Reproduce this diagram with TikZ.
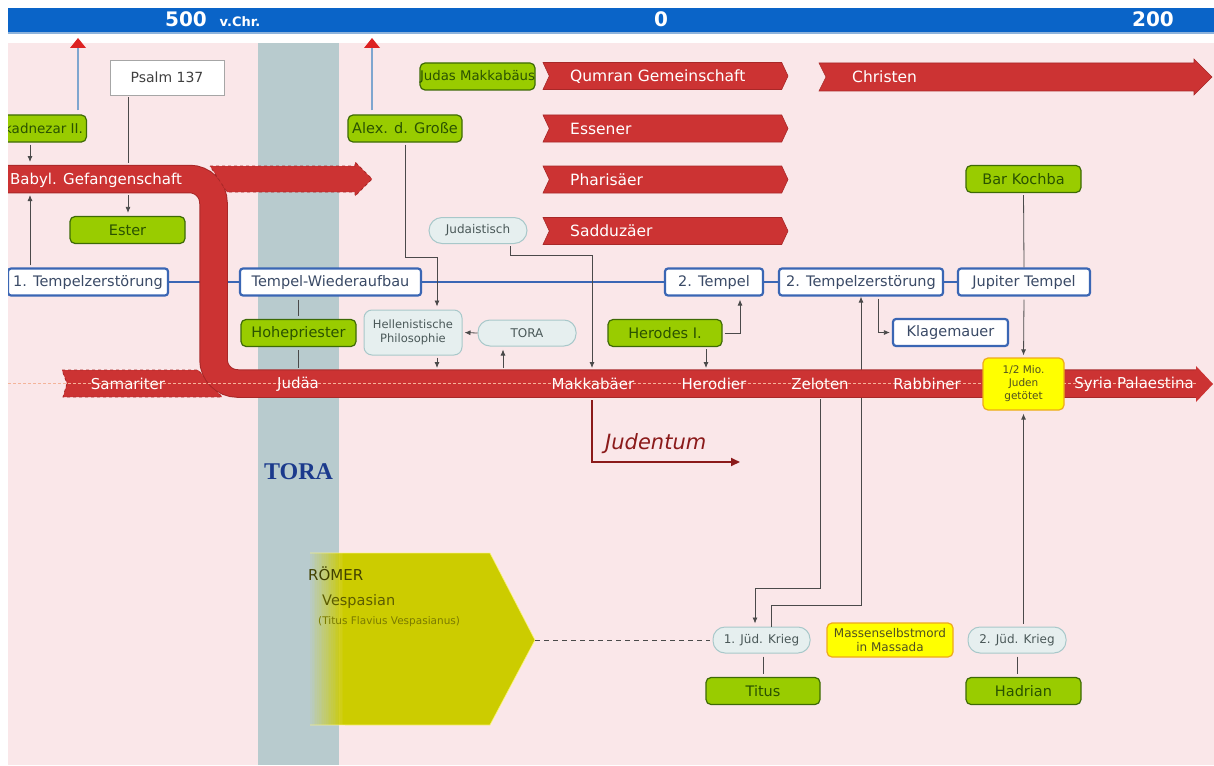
\documentclass[tikz,border=0pt]{standalone}
\usepackage{fontspec}
\setmainfont{DejaVu Sans}
\newfontfamily\torafont{Liberation Serif}
\usetikzlibrary{shapes.symbols,arrows.meta}
\definecolor{pinkbg}{HTML}{FAE7E9}
\definecolor{barblue}{HTML}{0A64C8}
\definecolor{barline}{HTML}{8DB3DC}
\definecolor{colgray}{HTML}{B8CBCE}
\definecolor{bandred}{HTML}{CC3333}
\definecolor{bandedge}{HTML}{A82828}
\definecolor{gfill}{HTML}{99CC00}
\definecolor{gborder}{HTML}{3D6A05}
\definecolor{gtext}{HTML}{2A5200}
\definecolor{bborder}{HTML}{3A66B4}
\definecolor{btext}{HTML}{3A4A66}
\definecolor{lfill}{HTML}{E6EFEF}
\definecolor{lborder}{HTML}{A8C8CA}
\definecolor{ltext}{HTML}{4A5858}
\definecolor{yfill}{HTML}{FFFF00}
\definecolor{yborder}{HTML}{EDAA1A}
\definecolor{ytext}{HTML}{505020}
\definecolor{conncol}{HTML}{4A4A4A}
\definecolor{olivefill}{HTML}{CCCC00}
\definecolor{darkred}{HTML}{8B1A1A}
\definecolor{dashor}{HTML}{F4B49A}
\definecolor{upblue}{HTML}{7FA6CF}
\definecolor{upred}{HTML}{DD2222}
\definecolor{torablue}{HTML}{1B3A8C}
\begin{document}
\begin{tikzpicture}[x=1pt,y=-1pt,
  greenbox/.style={draw=gborder, fill=gfill, rounded corners=5, line width=1.2, text=gtext, font=\fontsize{14.5}{17}\selectfont, minimum height=27, inner sep=0},
  bluebox/.style={draw=bborder, fill=white, rounded corners=3, line width=2.2, text=btext, font=\fontsize{14.5}{17}\selectfont, minimum height=27, inner sep=0},
  lightbox/.style={draw=lborder, fill=lfill, rounded corners=12, line width=1, text=ltext, font=\fontsize{12}{14}\selectfont, minimum height=26, inner sep=0},
  yellowbox/.style={draw=yborder, fill=yfill, rounded corners=5, line width=1.2, text=ytext, font=\fontsize{12}{14}\selectfont, inner sep=0},
  ribbonshape/.style={signal, signal to=east, signal from=west, signal pointer angle=130, fill=bandred, draw=bandedge, line width=0.6, minimum height=27, inner sep=0},
  ribbonlabel/.style={text=white, font=\fontsize{15.5}{18}\selectfont, inner sep=0, anchor=west},
  bandlabel/.style={text=white, font=\fontsize{15}{18}\selectfont, inner sep=0},
  conn/.style={draw=conncol, line width=0.8},
  arr/.style={conn, -{Latex[length=6pt,width=5pt]}}
]
\useasboundingbox (0,0) rectangle (1214,765);
\fill[white] (0,0) rectangle (1214,765);
\begin{scope}
\clip (8,0) rectangle (1214,765);
% background
\fill[barblue] (8,8) rectangle (1214,32);
\fill[barline] (8,32) rectangle (1214,34.5);
\fill[pinkbg] (8,43) rectangle (1214,765);
\fill[colgray] (258,43) rectangle (339,765);
\node[font=\torafont\bfseries\fontsize{24}{26}\selectfont, text=torablue] (toraL) at (298.5,472) {TORA};
% top bar labels
\node[text=white, font=\bfseries\fontsize{20}{22}\selectfont, anchor=base] (y500) at (186,27) {500};
\node[text=white, font=\bfseries\fontsize{13}{15}\selectfont, anchor=base] (vchr) at (240,27) {v.Chr.};
\node[text=white, font=\bfseries\fontsize{20}{22}\selectfont, anchor=base] (y0) at (661,27) {0};
\node[text=white, font=\bfseries\fontsize{20}{22}\selectfont, anchor=base] (y200) at (1153,27) {200};

% Roemer shape
\fill[olivefill] (345,553) -- (490,553) -- (535,640) -- (490,725) -- (345,725) -- cycle;
\foreach \i [evaluate=\i as \op using (\i+1)/20, evaluate=\i as \xa using 310+\i*1.75, evaluate=\i as \xb using 311.75+\i*1.75] in {0,...,19} {
  \fill[olivefill, opacity=\op] (\xa,553) rectangle (\xb,725);
}
\draw[yellow!50!white, line width=0.8, opacity=0.8] (310,553) -- (490,553) -- (535,640) -- (490,725) -- (310,725);
\coordinate (rtip) at (535,640);
\node[anchor=west, text=black!60!olivefill!80!black, font=\fontsize{15}{17}\selectfont, inner sep=0] (roemer) at (308,574) {RÖMER};
\node[anchor=west, text=olivefill!45!black, font=\fontsize{14.5}{17}\selectfont, inner sep=0] (vesp) at (322,601) {Vespasian};
\node[anchor=west, text=olivefill!60!black, font=\fontsize{10.5}{12}\selectfont, inner sep=0] (vespfull) at (318,622) {(Titus Flavius Vespasianus)};

% up arrows
\coordinate (up1) at (78,48);
\coordinate (up2) at (372,48);
\fill[upred] (70,48) -- (78,38) -- (86,48) -- cycle;
\fill[upred] (364,48) -- (372,38) -- (380,48) -- cycle;

% green boxes
\node[greenbox, inner xsep=3.5, anchor=east, font=\fontsize{13.5}{16}\selectfont] (nebu) at (87,128.5) {Nebukadnezar II.};
\node[greenbox, minimum width=114] (alex) at (405,128.5) {Alex. d. Große};
\node[greenbox, minimum width=115, font=\fontsize{13.3}{15}\selectfont] (judas) at (477.5,76.5) {Judas Makkabäus};
\node[greenbox, minimum width=115] (ester) at (127.5,230) {Ester};
\node[greenbox, minimum width=115] (hohe) at (298.5,333) {Hohepriester};
\node[greenbox, minimum width=114] (herodes) at (665,333) {Herodes I.};
\node[greenbox, minimum width=115] (kochba) at (1023.5,179) {Bar Kochba};
\node[greenbox, minimum width=114] (titus) at (763,691) {Titus};
\node[greenbox, minimum width=115] (hadrian) at (1023.5,691) {Hadrian};
\draw[upblue, line width=1.3, shorten <=4] (nebu.north -| up1) -- (up1);
\draw[upblue, line width=1.3, shorten <=4] (alex.north -| up2) -- (up2);

% psalm
\node[draw=gray!70, fill=white, line width=0.8, minimum width=114, minimum height=35, text=black!75, font=\fontsize{14}{16}\selectfont, inner sep=0] (psalm) at (167,77.5) {Psalm 137};

% blue timeline
\node[bluebox, minimum width=160] (tz1) at (88,282) {1. Tempelzerstörung};
\node[bluebox, minimum width=181] (tw) at (330.5,282) {Tempel-Wiederaufbau};
\node[bluebox, minimum width=98] (t2) at (714,282) {2. Tempel};
\node[bluebox, minimum width=164] (tz2) at (861,282) {2. Tempelzerstörung};
\node[bluebox, minimum width=132] (jup) at (1024,282) {Jupiter Tempel};
\node[bluebox, minimum width=115] (klage) at (950.5,332.5) {Klagemauer};
\draw[bborder, line width=2.2] (tz1.east) -- (tw.west);
\draw[bborder, line width=2.2] (tw.east) -- (t2.west);
\draw[bborder, line width=2.2] (t2.east) -- (tz2.west);
\draw[bborder, line width=2.2] (tz2.east) -- (jup.west);

% light boxes
\node[lightbox, minimum width=98, rounded corners=13] (judaist) at (478,230.5) {Judaistisch};
\node[lightbox, minimum width=98, minimum height=45, rounded corners=8, align=center, font=\fontsize{11.5}{14}\selectfont] (hell) at (413,332.5) {Hellenistische\\Philosophie};
\node[lightbox, minimum width=98] (tora) at (527,333) {TORA};
\node[lightbox, minimum width=97] (jk1) at (761.5,640) {1. Jüd. Krieg};
\node[lightbox, minimum width=98] (jk2) at (1017,640) {2. Jüd. Krieg};
\node[yellowbox, minimum width=126, minimum height=34, align=center] (massada) at (890,640) {Massenselbstmord\\in Massada};

% ribbons
\node[ribbonshape, minimum width=245] (qumran) at (665.5,76) {};
\node[ribbonshape, minimum width=245] (essener) at (665.5,128.5) {};
\node[ribbonshape, minimum width=245] (pharis) at (665.5,179.5) {};
\node[ribbonshape, minimum width=245] (sadduz) at (665.5,231) {};
\node[ribbonlabel] (qumranL) at (570,77) {Qumran Gemeinschaft};
\node[ribbonlabel] (essenerL) at (570,129) {Essener};
\node[ribbonlabel] (pharisL) at (570,180) {Pharisäer};
\node[ribbonlabel] (sadduzL) at (570,231) {Sadduzäer};
\fill[bandred, draw=bandedge, line width=0.6] (819,63) -- (1194,63) -- (1194,59) -- (1212,77) -- (1194,95) -- (1194,91) -- (819,91) -- (826,77) -- cycle;
\node[ribbonlabel] (christenL) at (852,77) {Christen};

% connector passing behind the band
\coordinate (k16) at (771,605);
\coordinate (k16b) at (861,605);
\draw[arr] (jk1.north -| k16) -- (k16) -- (k16b) -- (tz2.south);

% Samariter ribbon
\fill[bandred, draw=bandedge, line width=0.8, dashed] (62,370) -- (198,370) -- (222,397) -- (63,397) -- (67,383.5) -- cycle;

% main band
\draw[bandedge, line width=28.5, rounded corners=24] (0,179) -- (213.5,179) -- (213.5,383.5) -- (1197,383.5);
\draw[bandred, line width=26.5, rounded corners=24] (0,179) -- (213.5,179) -- (213.5,383.5) -- (1197,383.5);
\fill[bandred] (1194,370.5) -- (1196,370.5) -- (1196,366) -- (1213,384) -- (1196,402) -- (1196,397) -- (1194,397) -- cycle;

% dashed arrow to the right of the bend
\fill[bandred, draw=bandedge, line width=0.8, dashed] (210,166) -- (355,166) -- (355,162) -- (372,179) -- (355,196) -- (355,192) -- (227,192) -- cycle;

% dashed orange line
\draw[dashor, dash pattern=on 3pt off 2pt, line width=0.7] (8,383.5) -- (1196,383.5);

% band labels
\node[bandlabel] (babylL) at (96,180) {Babyl. Gefangenschaft};
\node[bandlabel] (samL) at (128,384) {Samariter};
\node[bandlabel] (judL) at (298,384) {Judäa};
\node[bandlabel] (makL) at (593,384) {Makkabäer};
\node[bandlabel] (herL) at (714,384) {Herodier};
\node[bandlabel] (zelL) at (820,384) {Zeloten};
\node[bandlabel] (rabL) at (927,384) {Rabbiner};
\node[bandlabel] (syrL) at (1134,384) {Syria Palaestina};

\node[yellowbox, minimum width=81, minimum height=52, align=center, font=\fontsize{10.5}{13}\selectfont] (mio) at (1023.5,384) {1/2 Mio.\\Juden\\getötet};

% connectors
\coordinate (b1) at (30,162);
\draw[arr, shorten <=2] (nebu.south -| b1) -- (b1);
\coordinate (b2) at (30,195);
\draw[arr, shorten <=2] (tz1.north -| b2) -- (b2);
\coordinate (b3) at (128,163);
\draw[conn, shorten <=2] (psalm.south -| b3) -- (b3);
\coordinate (b4) at (128,195);
\draw[arr, shorten >=3] (b4) -- (ester.north -| b4);
\draw[conn, shorten <=3, shorten >=3] (tw.south -| hohe.north) -- (hohe.north);
\coordinate (b6) at (298.5,368);
\draw[conn, shorten <=3] (hohe.south) -- (b6);
\coordinate (k7) at (437,257);
\draw[arr, shorten <=2, shorten >=3] (alex.south) |- (k7) -- (k7 |- hell.north);
\coordinate (k8a) at (510,255);
\coordinate (k8b) at (592,255);
\coordinate (b8) at (592,368);
\draw[arr, shorten <=2] (judaist.south -| k8a) -- (k8a) -- (k8b) -- (b8);
\coordinate (b9) at (437,368);
\draw[arr, shorten <=2] (hell.south -| b9) -- (b9);
\draw[arr, shorten >=2] (tora.west) -- (hell.east);
\coordinate (b11) at (503,368);
\draw[arr, shorten >=3] (b11) -- (b11 |- tora.south);
\coordinate (k12) at (740,333);
\draw[arr, shorten <=2, shorten >=3] (herodes.east) -- (k12) -- (k12 |- t2.south);
\coordinate (b13) at (706,368);
\draw[arr, shorten <=2] (herodes.south -| b13) -- (b13);
\coordinate (k14) at (878,300);
\draw[arr, shorten <=2, shorten >=2] (tz2.south -| k14) |- (klage.west);
\coordinate (b15) at (820,399);
\coordinate (k15) at (755,588);
\draw[arr, shorten >=3] (b15) |- (k15) -- (k15 |- jk1.north);
\draw[conn, shorten <=2] (kochba.south) -- (jup.north);
\draw[arr, shorten <=3, shorten >=2] (jup.south) -- (mio.north);
\draw[arr, shorten <=3, shorten >=3] (jk2.north -| mio.south) -- (mio.south);
\draw[conn, shorten <=3, shorten >=3] (jk1.south -| titus.north) -- (titus.north);
\draw[conn, shorten <=3, shorten >=3] (jk2.south) -- (jk2.south |- hadrian.north);
\draw[conncol, line width=0.8, dash pattern=on 5pt off 4pt, shorten >=3] (rtip) -- (jk1.west);

% Judentum
\coordinate (jd0) at (592,400);
\coordinate (jd1) at (740,462);
\draw[darkred, line width=1.8, -{Triangle[length=9pt,width=8pt]}] (jd0) |- (jd1);
\node[anchor=west, text=darkred, font=\itshape\fontsize{21}{24}\selectfont, inner sep=0] (judentum) at (605,444) {Judentum};
\end{scope}
\end{tikzpicture}
\end{document}
